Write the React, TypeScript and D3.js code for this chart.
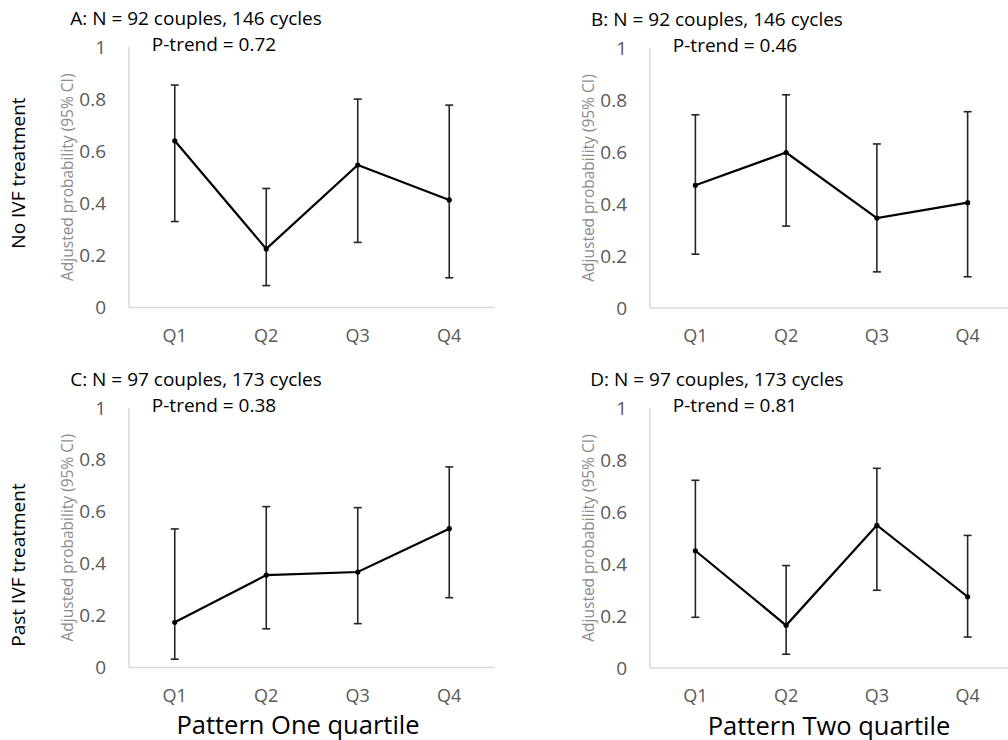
import React from "react";
import * as d3 from "d3";

const quartiles = ["Q1", "Q2", "Q3", "Q4"];
const yTicks = [0, 0.2, 0.4, 0.6, 0.8, 1];

const panelTitles = [
  "A: N = 92 couples, 146 cycles",
  "B: N = 92 couples, 146 cycles",
  "C: N = 97 couples, 173 cycles",
  "D: N = 97 couples, 173 cycles",
];
const pTrends = ["P-trend = 0.72", "P-trend = 0.46", "P-trend = 0.38", "P-trend = 0.81"];
const rowLabels = ["No IVF treatment", "Past IVF treatment"];
const xTitles = ["Pattern One quartile", "Pattern Two quartile"];
const yTitle = "Adjusted probability (95% CI)";

const estA = [0.64, 0.225, 0.547, 0.413];
const lowA = [0.33, 0.084, 0.25, 0.114];
const highA = [0.854, 0.457, 0.8, 0.777];

const estB = [0.472, 0.598, 0.346, 0.405];
const lowB = [0.207, 0.315, 0.139, 0.12];
const highB = [0.743, 0.82, 0.631, 0.755];

const estC = [0.174, 0.356, 0.368, 0.535];
const lowC = [0.032, 0.149, 0.169, 0.269];
const highC = [0.534, 0.62, 0.616, 0.773];

const estD = [0.451, 0.164, 0.549, 0.274];
const lowD = [0.195, 0.053, 0.299, 0.119];
const highD = [0.722, 0.394, 0.768, 0.51];

const FONT = "'Open Sans', sans-serif";

type PanelProps = {
  x0: number;
  x1: number;
  yTop: number;
  yBot: number;
  title: string;
  ptrend: string;
  est: number[];
  low: number[];
  high: number[];
  xTitle?: string;
  xTitleShift?: number;
};

function Panel({ x0, x1, yTop, yBot, title, ptrend, est, low, high, xTitle, xTitleShift = 0 }: PanelProps) {
  const x = d3.scaleBand<string>().domain(quartiles).range([x0, x1]);
  const y = d3.scaleLinear().domain([0, 1]).range([yBot, yTop]);
  const cx = (q: string) => (x(q) as number) + x.bandwidth() / 2;
  const line = d3
    .line<number>()
    .x((_, i) => cx(quartiles[i]))
    .y((d) => y(d));
  const cap = 4;
  return (
    <g>
      <line x1={x0} x2={x0} y1={y(1)} y2={y(0)} stroke="#d9d9d9" strokeWidth={1.5} />
      <line x1={x0} x2={x1} y1={y(0)} y2={y(0)} stroke="#d9d9d9" strokeWidth={1.5} />
      {yTicks.map((t) => (
        <text
          key={t}
          x={x0 - 23}
          y={y(t) + 6.5}
          textAnchor="end"
          fontSize={19}
          fill="#595959"
          fontFamily={FONT}
        >
          {d3.format("~g")(t)}
        </text>
      ))}
      {quartiles.map((q) => (
        <text
          key={q}
          x={cx(q)}
          y={y(0) + 34}
          textAnchor="middle"
          fontSize={18}
          fill="#595959"
          fontFamily={FONT}
        >
          {q}
        </text>
      ))}
      <text
        transform={`translate(${x0 - 62},${(y(0) + y(1)) / 2}) rotate(-90)`}
        textAnchor="middle"
        dominantBaseline="central"
        fontSize={15.5}
        fill="#8c8c8c"
        fontFamily={FONT}
      >
        {yTitle}
      </text>
      <text
        x={x0 + 67}
        y={y(1) - 22}
        textAnchor="middle"
        fontSize={19}
        fill="#000"
        fontFamily={FONT}
      >
        {title}
      </text>
      <text
        x={x0 + 85}
        y={y(1) + 4}
        textAnchor="middle"
        fontSize={19}
        fill="#000"
        fontFamily={FONT}
      >
        {ptrend}
      </text>
      {quartiles.map((q, i) => (
        <g key={q} stroke="#262626" strokeWidth={1.6}>
          <line x1={cx(q)} x2={cx(q)} y1={y(low[i])} y2={y(high[i])} />
          <line x1={cx(q) - cap} x2={cx(q) + cap} y1={y(low[i])} y2={y(low[i])} />
          <line x1={cx(q) - cap} x2={cx(q) + cap} y1={y(high[i])} y2={y(high[i])} />
        </g>
      ))}
      <path d={line(est) as string} fill="none" stroke="#000" strokeWidth={2.2} />
      {est.map((v, i) => (
        <circle key={i} cx={cx(quartiles[i])} cy={y(v)} r={2.6} fill="#000" />
      ))}
      {xTitle && (
        <text
          x={(x0 + x1) / 2 + xTitleShift}
          y={y(0) + 66.5}
          textAnchor="middle"
          fontSize={25.5}
          fill="#000"
          fontFamily={FONT}
        >
          {xTitle}
        </text>
      )}
    </g>
  );
}

export default function App() {
  const W = 1008;
  const H = 740;
  return (
    <svg
      width={W}
      height={H}
      style={{ position: "absolute", left: 0, top: 0, background: "#fff" }}
    >
      <rect width={W} height={H} fill="#fff" />
      <Panel x0={129} x1={495} yTop={47} yBot={307.5} title={panelTitles[0]} ptrend={pTrends[0]} est={estA} low={lowA} high={highA} />
      <Panel x0={650} x1={1013} yTop={48} yBot={308} title={panelTitles[1]} ptrend={pTrends[1]} est={estB} low={lowB} high={highB} />
      <Panel x0={129} x1={495} yTop={408} yBot={667.5} title={panelTitles[2]} ptrend={pTrends[2]} est={estC} low={lowC} high={highC} xTitle={xTitles[0]} xTitleShift={-14} />
      <Panel x0={650} x1={1013} yTop={408} yBot={668} title={panelTitles[3]} ptrend={pTrends[3]} est={estD} low={lowD} high={highD} xTitle={xTitles[1]} xTitleShift={-2.5} />
      <text
        transform={`translate(25,173) rotate(-90)`}
        textAnchor="middle"
        fontSize={19}
        fill="#000"
        fontFamily={FONT}
      >
        {rowLabels[0]}
      </text>
      <text
        transform={`translate(25,565) rotate(-90)`}
        textAnchor="middle"
        fontSize={19}
        fill="#000"
        fontFamily={FONT}
      >
        {rowLabels[1]}
      </text>
    </svg>
  );
}
